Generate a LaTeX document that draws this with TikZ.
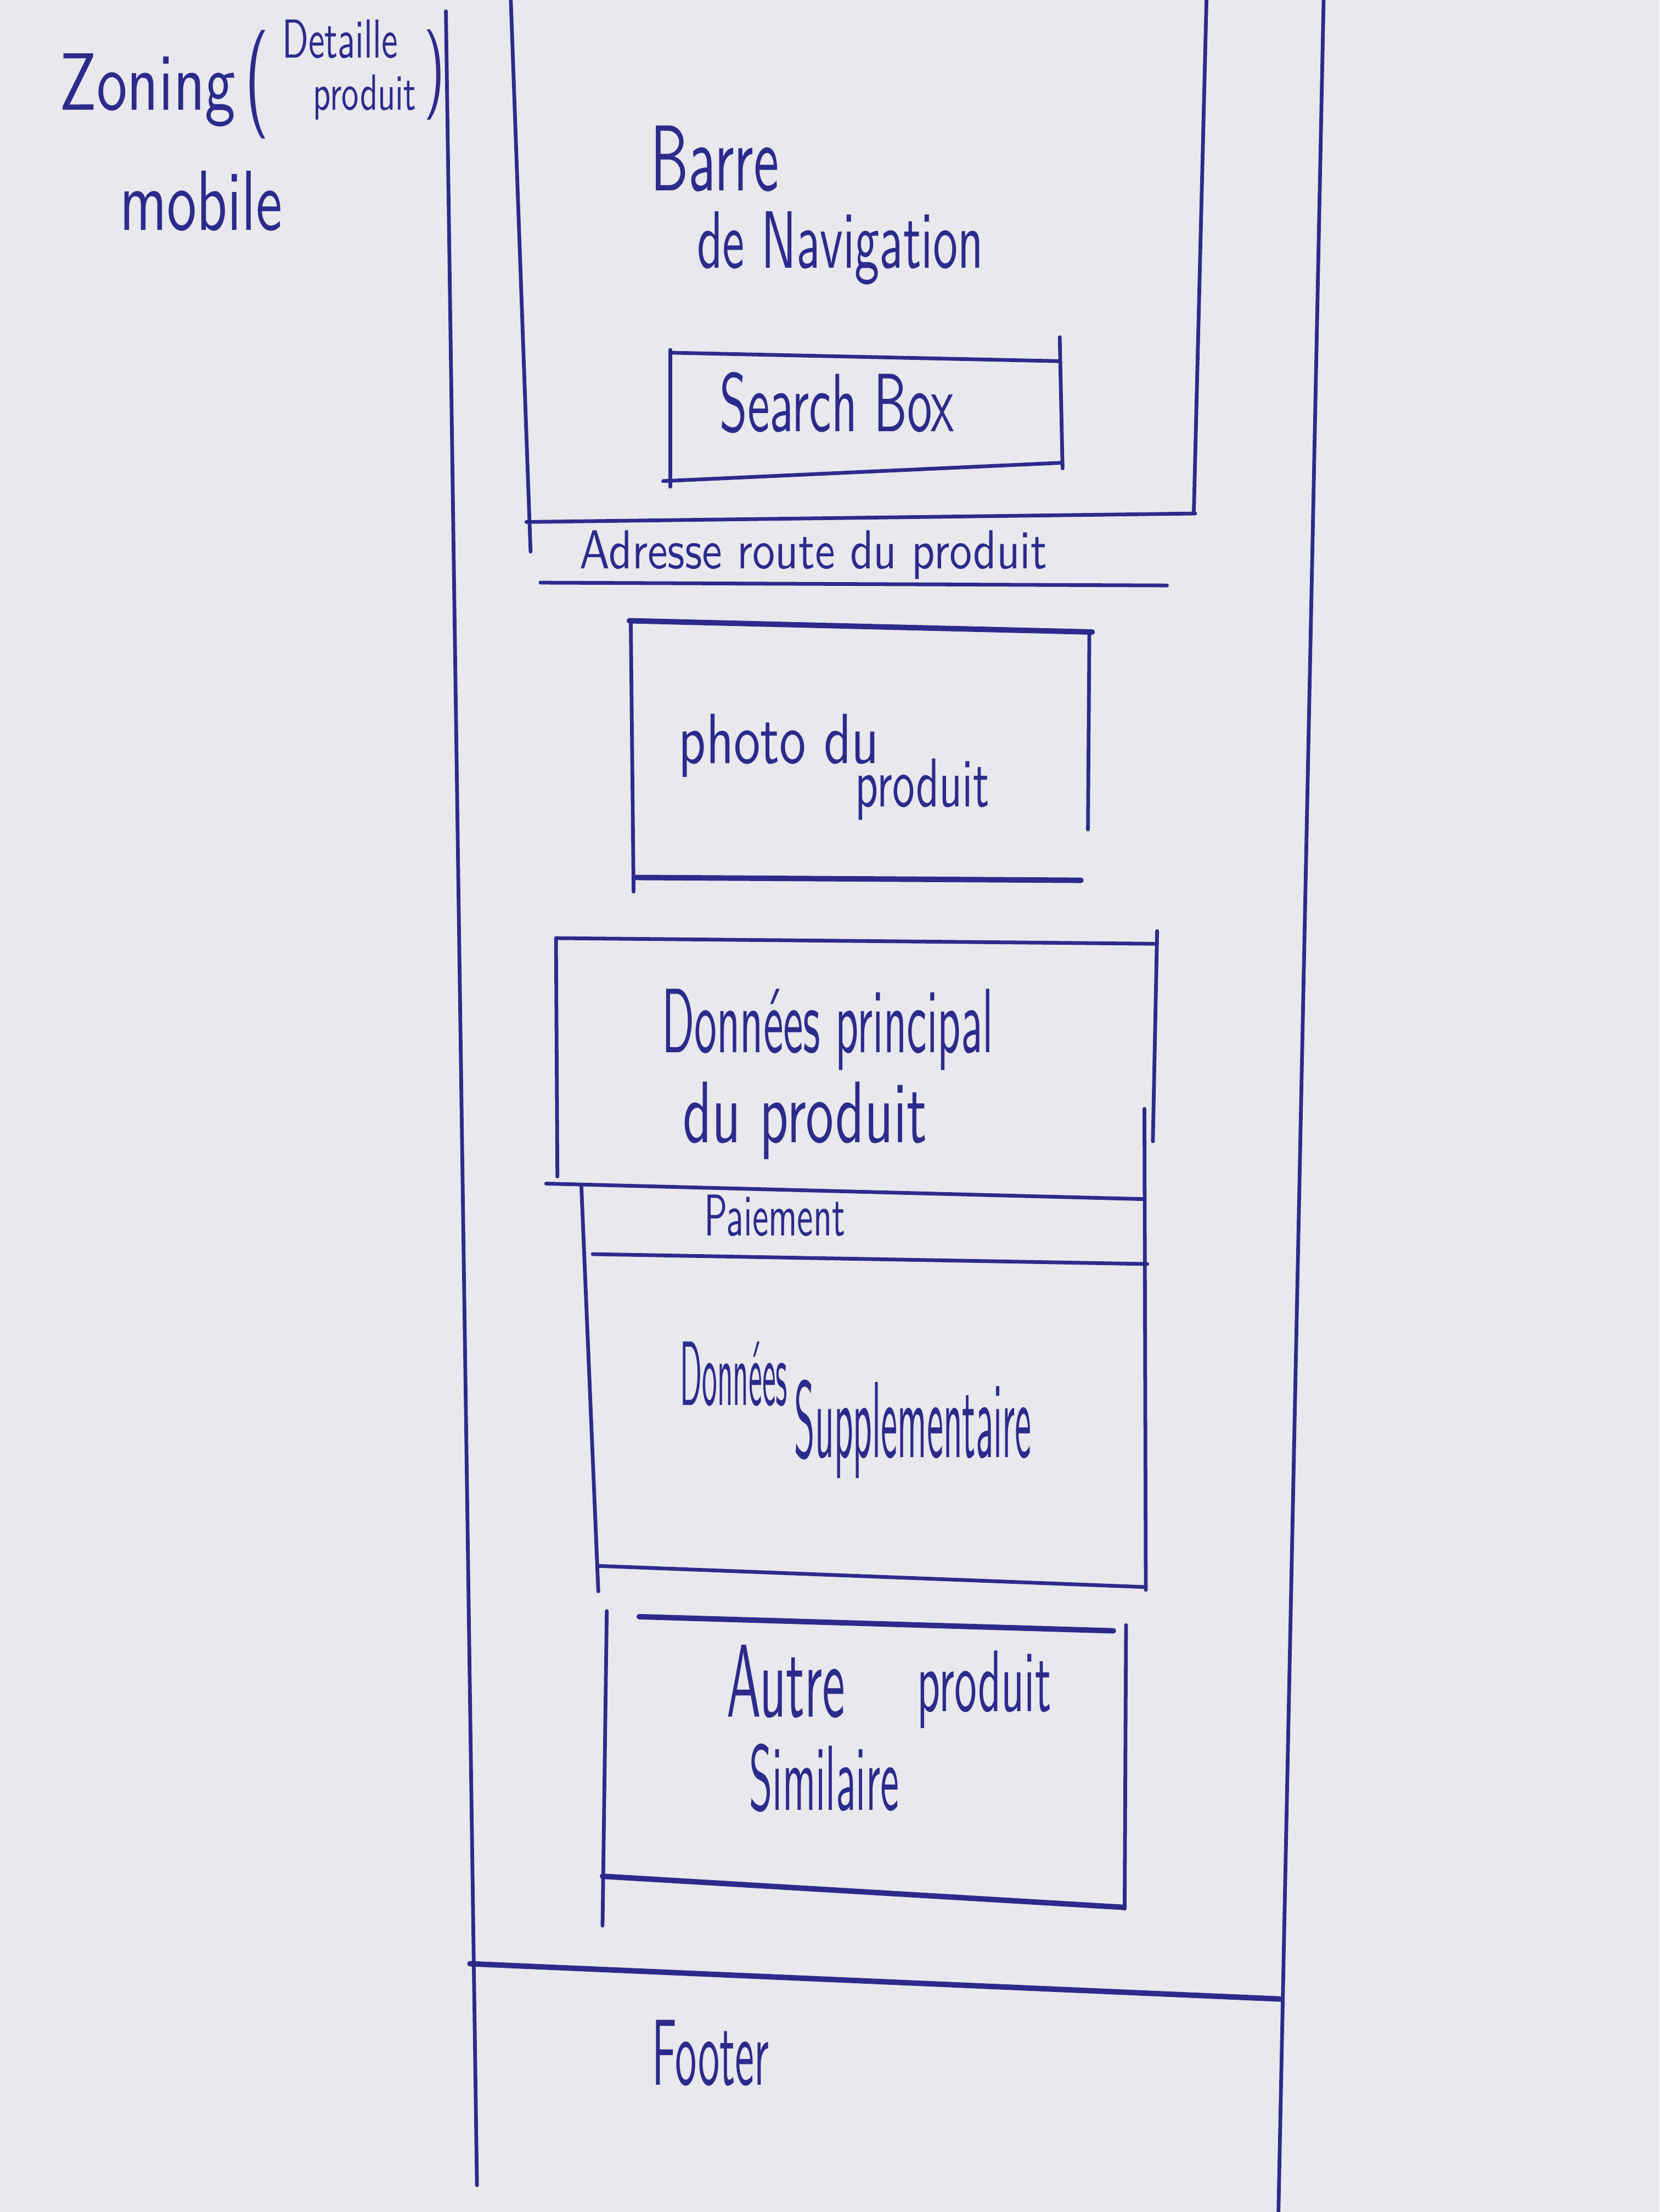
\documentclass[tikz,border=0pt]{standalone}
\usepackage{graphicx}
\definecolor{paper}{HTML}{E8E8ED}
\definecolor{ink}{HTML}{2C2B8C}
% handwritten-looking label: width (mm), height above baseline (mm), text
\newcommand{\hand}[3]{\resizebox{#1mm}{#2mm}{\sffamily #3}}
\newcommand{\handtall}[3]{\resizebox*{#1mm}{#2mm}{\sffamily #3}}
\begin{document}
\begin{tikzpicture}[x=0.1mm,y=-0.1mm,
  pen/.style={draw=ink,line width=0.75pt,line cap=round},
  penbold/.style={pen,line width=1.1pt},
  hw/.style={anchor=base west,inner sep=0pt,outer sep=0pt,text=ink}]
\fill[paper] (0,0) rectangle (1176,1568);
\useasboundingbox (0,0) rectangle (1176,1568);

% ---- title ----
\node[hw] (zoning) at (42,78) {\hand{12.5}{4.0}{Zoning}};
\node[anchor=center,inner sep=0pt,text=ink] (popen) at (182,60) {\handtall{1.7}{7.7}{(}};
\node[hw] (detail) at (200,41) {\hand{8.2}{2.7}{Detaille}};
\node[hw] (tprod) at (222,78) {\hand{7.3}{2.5}{produit}};
\node[anchor=center,inner sep=0pt,text=ink] (pclose) at (308,53) {\handtall{1.5}{6.4}{)}};
\node[hw] (mobile) at (85,163) {\hand{11.5}{4.2}{mobile}};

% ---- phone outline ----
\draw[pen] (316,8) -- (338,1549);
\draw[pen] (938,0) -- (906,1568);

% ---- navigation bar ----
\draw[pen] (362,0) -- (376,391);
\draw[pen] (855,0) -- (846,364);
\draw[pen] (373,370) -- (847,364);
\node[hw] (barre) at (461,135) {\hand{9.1}{4.6}{Barre}};
\node[hw] (nav) at (494,190) {\hand{20.3}{4.0}{de Navigation}};

% search box
\draw[pen] (475,250) -- (751,256);
\draw[pen] (751,239) -- (753,332);
\draw[pen] (470,341) -- (753,328);
\draw[pen] (475,248) -- (475,345);
\node[hw] (search) at (510,306) {\hand{16.6}{4.2}{Search Box}};

% ---- route ----
\node[hw] (route) at (411,403) {\hand{33.1}{2.7}{Adresse route du produit}};
\draw[pen] (383,413) -- (827,415);

% ---- product photo ----
\draw[penbold] (446,440) -- (774,448);
\draw[pen] (772,448) -- (771,588);
\draw[penbold] (451,622) -- (766,624);
\draw[pen] (447,440) -- (449,632);
\node[hw] (photo) at (481,541) {\hand{14.2}{3.5}{photo du}};
\node[hw] (photoprod) at (606,572) {\hand{9.5}{3.4}{produit}};

% ---- main product data ----
\draw[pen] (394,665) -- (820,669);
\draw[pen] (394,665) -- (395,834);
\draw[pen] (820,660) -- (817,809);
\node[hw] (princ) at (469,746) {\hand{23.5}{4.5}{Données principal}};
\node[hw] (duprod) at (484,810) {\hand{17.3}{4.3}{du produit}};

% ---- payment + extra data ----
\draw[pen] (387,839) -- (811,850);
\draw[pen] (811,786) -- (812,1127);
\draw[pen] (412,841) -- (424,1128);
\draw[pen] (420,889) -- (813,896);
\draw[pen] (424,1110) -- (812,1125);
\node[hw] (pay) at (499,876) {\hand{10.0}{2.9}{Paiement}};
\node[hw] (donnees) at (482,996) {\hand{7.6}{4.5}{Données}};
\node[hw] (supp) at (563,1033) {\hand{16.8}{5.5}{Supplementaire}};

% ---- similar products ----
\draw[penbold] (453,1146) -- (789,1156);
\draw[pen] (430,1142) -- (427,1365);
\draw[pen] (798,1152) -- (797,1353);
\draw[penbold] (427,1330) -- (796,1352);
\node[hw] (autre) at (515,1217) {\hand{8.4}{5.1}{Autre}};
\node[hw] (autreprod) at (650,1213) {\hand{9.5}{4.3}{produit}};
\node[hw] (simil) at (531,1283) {\hand{10.6}{4.7}{Similaire}};

% ---- footer ----
\draw[penbold] (333,1392) -- (907,1417);
\node[hw] (footer) at (462,1478) {\hand{8.3}{4.6}{Footer}};
\end{tikzpicture}
\end{document}
